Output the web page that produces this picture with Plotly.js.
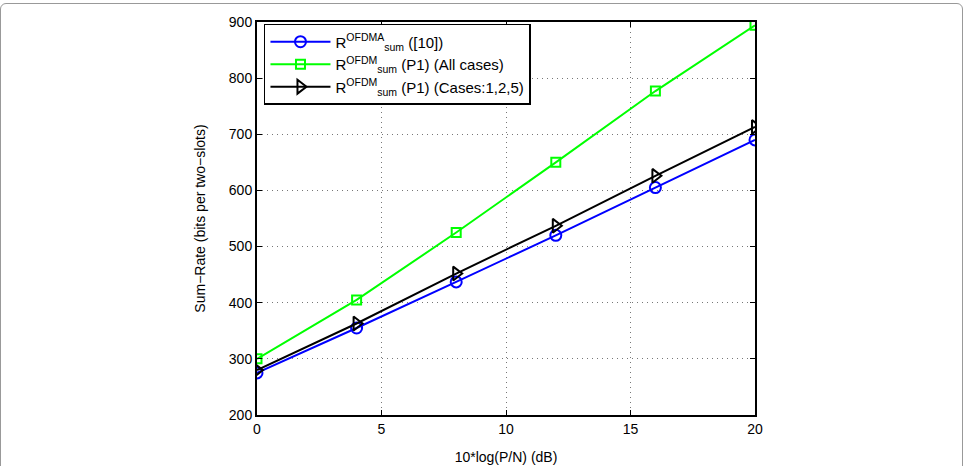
<!DOCTYPE html>
<html><head><meta charset="utf-8">
<script src="https://cdn.plot.ly/plotly-3.0.1.min.js"></script>
<style>
body{margin:0;padding:0;background:#fff;overflow:hidden;}
#frame{position:absolute;left:0;top:3px;width:963px;height:480px;border:1px solid #999;border-radius:6px;box-sizing:border-box;}
#plot{position:absolute;left:0;top:0;width:972px;height:466px;}
</style>
</head><body>
<div id="frame"></div>
<div id="plot"></div>
<script>
const snr = [0, 4, 8, 12, 16, 20];
const ofdma = [275, 355, 437, 520, 605, 690];
const ofdmAll = [300, 405, 525, 650, 777, 894];
const ofdm125 = [280, 363, 452, 537, 626, 713];
const xTicks = [0, 5, 10, 15, 20];
const yTicks = [200, 300, 400, 500, 600, 700, 800, 900];

const names = [
  'R<sup>OFDMA</sup><sub>sum</sub> ([10])',
  'R<sup>OFDM</sup><sub>sum</sub> (P1) (All cases)',
  'R<sup>OFDM</sup><sub>sum</sub> (P1) (Cases:1,2,5)'
];

const traces = [
  {x: snr, y: ofdma, name: names[0], mode: 'lines+markers',
   line: {color: '#0000ff', width: 2},
   marker: {symbol: 'circle-open', size: 11, color: '#0000ff', line: {width: 2}}},
  {x: snr, y: ofdmAll, name: names[1], mode: 'lines+markers',
   line: {color: '#00ff00', width: 2},
   marker: {symbol: 'square-open', size: 9, color: '#00ff00', line: {width: 2}}},
  {x: snr, y: ofdm125, name: names[2], mode: 'lines+markers',
   line: {color: '#000000', width: 2},
   marker: {symbol: 'triangle-right-open', size: 12, color: '#000000', line: {width: 2}}}
];

const font = {family: 'Liberation Sans, Arial, sans-serif', size: 14, color: '#000'};

const layout = {
  width: 972, height: 466,
  margin: {l: 257, r: 217, t: 22, b: 51, pad: 0},
  paper_bgcolor: 'rgba(0,0,0,0)', plot_bgcolor: '#fff',
  font: font,
  showlegend: true,
  xaxis: {
    range: [0, 20], tickvals: xTicks, ticktext: xTicks.map(String),
    ticks: 'inside', ticklen: 5, tickcolor: '#000', tickwidth: 1, mirror: 'ticks',
    showline: true, linecolor: '#000', linewidth: 2,
    showgrid: true, gridcolor: '#777', griddash: '1px,4px', gridwidth: 1,
    zeroline: false, tickfont: {size: 14},
    title: {text: '10*log(P/N) (dB)', font: {size: 14}, standoff: 16}
  },
  yaxis: {
    range: [200, 900], tickvals: yTicks, ticktext: yTicks.map(String),
    ticks: 'inside', ticklen: 5, tickcolor: '#000', tickwidth: 1, mirror: 'ticks',
    showline: true, linecolor: '#000', linewidth: 2,
    showgrid: true, gridcolor: '#777', griddash: '1px,4px', gridwidth: 1,
    zeroline: false, tickfont: {size: 14},
    title: {text: 'Sum\u2212Rate (bits per two\u2212slots)', font: {size: 14}, standoff: 20}
  },
  legend: {
    x: 0.014, y: 0.995, xanchor: 'left', yanchor: 'top',
    bgcolor: '#fff', bordercolor: '#000', borderwidth: 1.5,
    font: {size: 15}, itemwidth: 60
  }
};

Plotly.newPlot('plot', traces, layout, {displayModeBar: false, staticPlot: true});
</script>
</body></html>
